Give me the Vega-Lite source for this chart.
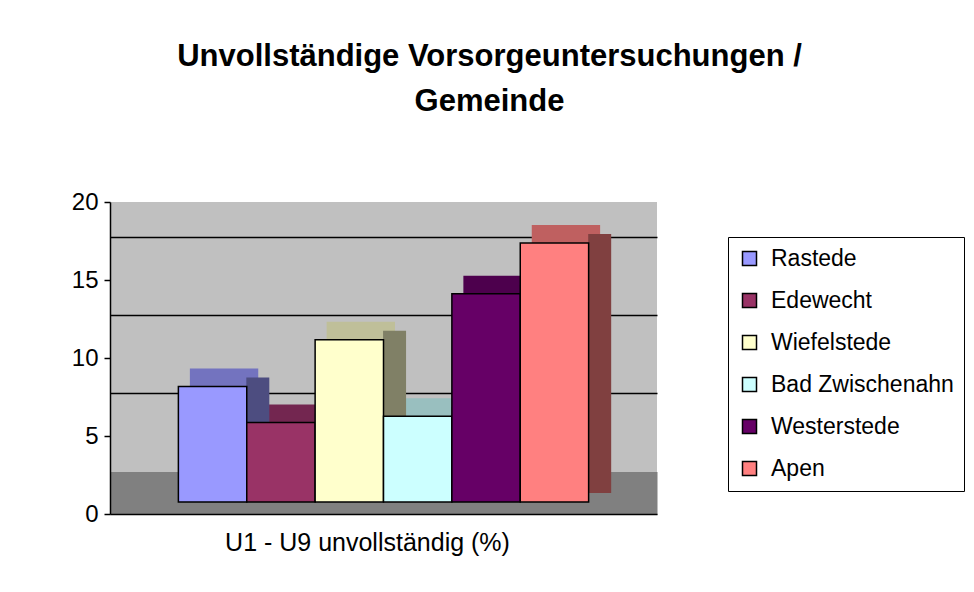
{
  "$schema": "https://vega.github.io/schema/vega-lite/v6.json",
  "width": 547,
  "height": 312,
  "autosize": "none",
  "padding": {"left": 110, "top": 202, "right": 317, "bottom": 78},
  "background": "white",
  "data": {"values": [
    {"gemeinde": "Rastede", "wert": 7.4},
    {"gemeinde": "Edewecht", "wert": 5.1},
    {"gemeinde": "Wiefelstede", "wert": 10.4},
    {"gemeinde": "Bad Zwischenahn", "wert": 5.5},
    {"gemeinde": "Westerstede", "wert": 13.35},
    {"gemeinde": "Apen", "wert": 16.6}
  ]},
  "title": {
    "text": ["Unvollständige Vorsorgeuntersuchungen /", "Gemeinde"],
    "font": "Liberation Sans",
    "fontSize": 31,
    "fontWeight": "bold",
    "color": "black",
    "anchor": "middle",
    "frame": "group",
    "dx": 106,
    "offset": 72,
    "lineHeight": 45
  },
  "config": {
    "view": {"fill": "#c0c0c0", "stroke": null},
    "font": "Liberation Sans"
  },
  "encoding": {
    "x": {
      "field": "gemeinde",
      "type": "nominal",
      "sort": null,
      "scale": {"paddingInner": 0, "paddingOuter": 1.05},
      "axis": {
        "labels": false,
        "ticks": false,
        "domain": true,
        "domainColor": "black",
        "domainWidth": 1.5,
        "title": "U1 - U9 unvollständig (%)",
        "titleFont": "Liberation Sans",
        "titleFontSize": 25,
        "titleFontWeight": "normal",
        "titleColor": "black",
        "titlePadding": 16,
        "titleX": 257,
        "titleAlign": "center"
      }
    }
  },
  "layer": [
    {
      "mark": {"type": "bar", "opacity": 1, "xOffset": 11.5, "yOffset": -30, "y2Offset": -12},
      "encoding": {
        "y": {
          "field": "wert",
          "type": "quantitative",
          "scale": {"domain": [0, 20]},
          "axis": {
            "orient": "left",
            "values": [5, 10, 15],
            "grid": true,
            "gridColor": "black",
            "gridWidth": 1.5,
            "gridOpacity": 1,
            "labels": false,
            "ticks": false,
            "domain": false,
            "tickOffset": -43,
            "title": null
          }
        },
        "y2": {"field": "wert"},
        "color": {
          "field": "gemeinde",
          "type": "nominal",
          "scale": {
            "domain": ["Rastede", "Edewecht", "Wiefelstede", "Bad Zwischenahn", "Westerstede", "Apen"],
            "range": ["#7373BF", "#732650", "#BFBF99", "#99BFBF", "#4D004D", "#BF6060"]
          },
          "legend": null
        }
      }
    },
    {
      "mark": {"type": "bar", "opacity": 1, "width": 23, "xOffset": 45.25, "yOffset": -21, "y2Offset": -21},
      "encoding": {
        "y": {
          "field": "wert",
          "type": "quantitative",
          "axis": {
            "orient": "left",
            "values": [0],
            "grid": true,
            "gridColor": "#808080",
            "gridWidth": 43,
            "gridOpacity": 1,
            "labels": false,
            "ticks": false,
            "domain": false,
            "tickOffset": -21.5,
            "title": null
          }
        },
        "color": {
          "field": "gemeinde",
          "type": "nominal",
          "scale": {
            "domain": ["Rastede", "Edewecht", "Wiefelstede", "Bad Zwischenahn", "Westerstede", "Apen"],
            "range": ["#4D4D80", "#4D1A33", "#808066", "#668080", "#330033", "#804040"]
          },
          "legend": null
        }
      }
    },
    {
      "mark": {"type": "bar", "opacity": 1, "yOffset": -12, "y2Offset": -12, "stroke": "black", "strokeWidth": 1.5},
      "encoding": {
        "y": {
          "field": "wert",
          "type": "quantitative",
          "axis": {
            "orient": "left",
            "values": [0, 5, 10, 15, 20],
            "grid": false,
            "labelFont": "Liberation Sans",
            "labelFontSize": 24,
            "labelColor": "black",
            "labelPadding": 6,
            "tickColor": "black",
            "tickSize": 6,
            "tickWidth": 1.5,
            "domainColor": "black",
            "domainWidth": 1.5,
            "title": null
          }
        },
        "color": {
          "field": "gemeinde",
          "type": "nominal",
          "scale": {
            "domain": ["Rastede", "Edewecht", "Wiefelstede", "Bad Zwischenahn", "Westerstede", "Apen"],
            "range": ["#9999FF", "#993366", "#FFFFCC", "#CCFFFF", "#660066", "#FF8080"]
          },
          "legend": {
            "orient": "none",
            "legendX": 618,
            "legendY": 35,
            "title": null,
            "labelFont": "Liberation Sans",
            "labelFontSize": 23,
            "labelColor": "black",
            "labelLimit": 400,
            "symbolType": "square",
            "symbolSize": 196,
            "symbolStrokeColor": "black",
            "symbolStrokeWidth": 1.5,
            "symbolOpacity": 1,
            "rowPadding": 18,
            "labelOffset": 10,
            "padding": 10,
            "strokeColor": "black",
            "fillColor": "white"
          }
        }
      }
    }
  ],
  "resolve": {"scale": {"color": "independent"}, "axis": {"y": "independent"}}
}
